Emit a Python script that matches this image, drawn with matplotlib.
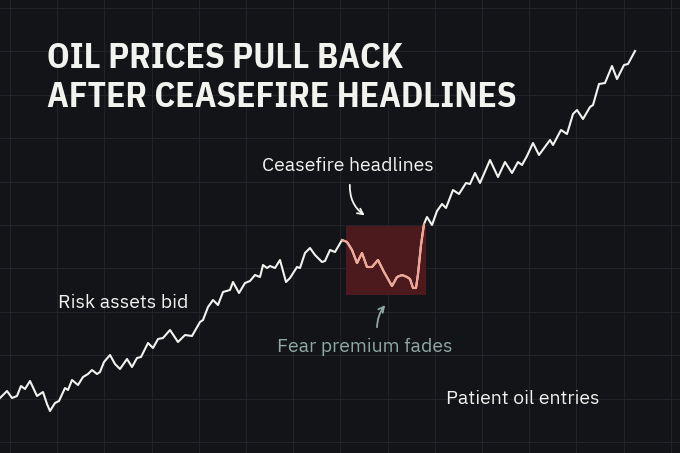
import matplotlib
matplotlib.use("Agg")
import matplotlib.pyplot as plt
import numpy as np

# price path (t = session, level = index level)
t = [0, 7, 12, 17, 21, 25, 30, 37, 43, 47, 50, 55, 59, 65, 68, 72, 78, 83, 88, 92,
     97, 100, 104, 110, 115, 120, 127, 132, 137, 141, 148, 153, 158, 163, 170, 178,
     185, 192, 200, 203, 208, 213, 218, 223, 230, 233, 239, 245, 250, 255, 260, 263,
     267, 270, 275, 280, 286, 290, 297, 300, 305, 310, 315, 322, 325, 330, 335, 342,
     347, 352, 357, 362, 367, 372, 378, 384, 392, 397, 402, 407, 410, 413, 416, 418,
     421, 424, 427, 432, 437, 442, 446, 453, 459, 466, 470, 475, 480, 490, 498, 505,
     512, 518, 522, 527, 533, 539, 550, 553, 561, 567, 573, 577, 583, 590, 593, 599,
     605, 612, 617, 624, 628, 635]
level = [55, 62, 55, 57, 67, 64, 72, 57, 61, 49, 42, 50, 52, 65, 63, 73, 68, 76, 79, 83,
         79, 81, 91, 98, 89, 84, 94, 86, 95, 96, 110, 105, 114, 115, 123, 111,
         118, 117, 131, 133, 146, 153, 148, 161, 163, 171, 160, 170, 172, 178, 176, 188,
         185, 187, 185, 193, 171, 175, 186, 185, 200, 205, 198, 191, 192, 203, 201, 213,
         211, 203, 190, 200, 186, 186, 193, 181, 167, 176, 178, 176, 174, 165, 165, 179,
         208, 229, 236, 228, 242, 249, 245, 263, 259, 270, 269, 280, 270, 293, 276, 291,
         280, 291, 288, 297, 310, 298, 313, 308, 323, 319, 339, 343, 334, 346, 348, 369,
         370, 387, 374, 388, 389, 402]

# ceasefire window
window_start, window_end = 346, 426
window_low, window_high = 158, 227

title_lines = ["OIL PRICES PULL BACK", "AFTER CEASEFIRE HEADLINES"]

bg = "#131418"
white = "#f2f2ef"
teal = "#8fa9a1"
title_font = "IBM Plex Sans Condensed"
body_font = "IBM Plex Sans"

fig = plt.figure(figsize=(6.8, 4.53), dpi=100, facecolor=bg)
ax = fig.add_axes([0, 0, 1, 1])
ax.set_facecolor(bg)
ax.set_xlim(0, 680)
ax.set_ylim(0, 453)

ax.set_xticks(np.arange(10, 680, 47.2))
ax.set_yticks(np.arange(11, 453, 43.4))
ax.grid(True, color="#212328", lw=0.8)
ax.tick_params(length=0, labelbottom=False, labelleft=False)
for s in ax.spines.values():
    s.set_visible(False)

ax.fill_between([window_start, window_end], window_low, window_high,
                color="#4c1a1d", lw=0, zorder=2)

tt = np.array(t)
lv = np.array(level)
ax.plot(tt, lv, color=white, lw=1.5, zorder=3)
m = (tt >= 342) & (tt <= 424)
ax.plot(tt[m], lv[m], color="#f2a592", lw=1.5, zorder=4)

# title
ax.text(47, 385, title_lines[0], color=white, fontsize=25.5, fontweight="bold",
        va="baseline", ha="left", family=title_font)
ax.text(47, 346, title_lines[1], color=white, fontsize=25.5, fontweight="bold",
        va="baseline", ha="left", family=title_font)

fs = 14
ax.text(348, 282, "Ceasefire headlines", color=white, fontsize=fs,
        ha="center", va="baseline", family=body_font)
ax.text(58, 145, "Risk assets bid", color=white, fontsize=fs,
        ha="left", va="baseline", family=body_font)
ax.text(365, 101, "Fear premium fades", color=teal, fontsize=fs,
        ha="center", va="baseline", family=body_font)
ax.text(446, 49, "Patient oil entries", color=white, fontsize=fs,
        ha="left", va="baseline", family=body_font)

ax.annotate("", xy=(367, 236), xytext=(350, 271),
            arrowprops=dict(arrowstyle="->", color=white, lw=1.3,
                            connectionstyle="arc3,rad=0.3"))
ax.annotate("", xy=(387, 150), xytext=(377, 123),
            arrowprops=dict(arrowstyle="->", color=teal, lw=1.3,
                            connectionstyle="arc3,rad=-0.2"))

fig.savefig("out.png", dpi=100, facecolor=bg)
